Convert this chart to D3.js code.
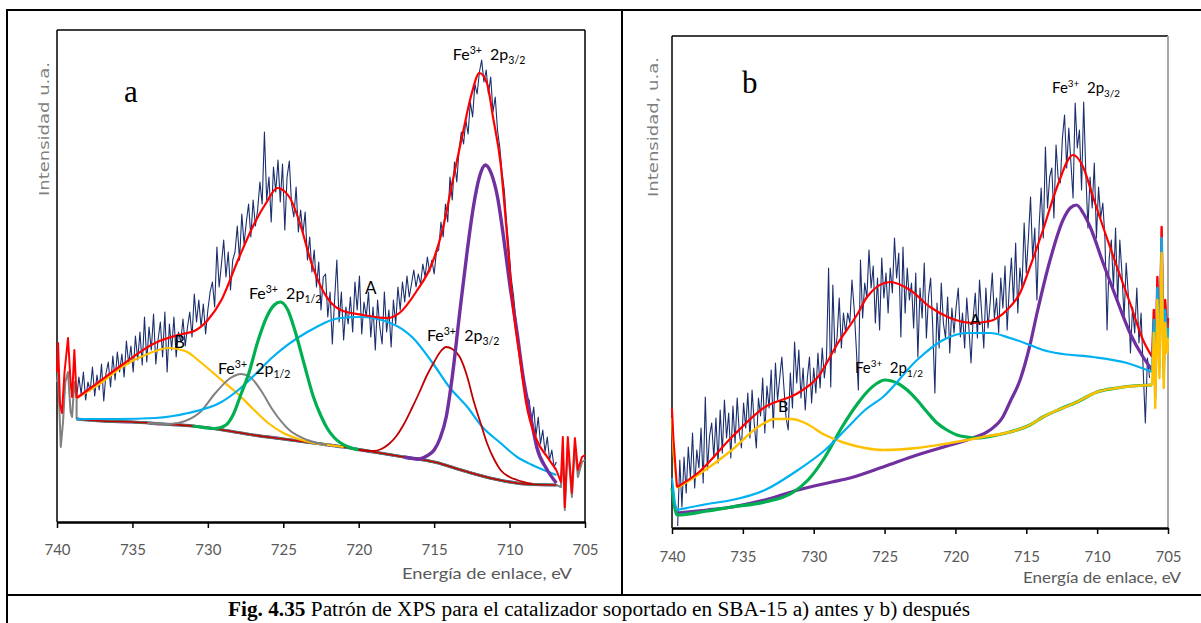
<!DOCTYPE html>
<html><head><meta charset="utf-8">
<script src="https://cdn.jsdelivr.net/npm/d3@7"></script>
<style>body{margin:0;background:#fff}svg{display:block}</style>
</head><body>
<svg id="c" width="1201" height="623"></svg>
<script>
// ---------------- DATA ----------------
const ticks = [740, 735, 730, 725, 720, 715, 710, 705];
const xTitle = "Energía de enlace, eV";
const yTitleA = "Intensidad u.a.";
const yTitleB = "Intensidad, u.a.";
const caption = ["Fig. 4.35", " Patrón de XPS para el catalizador soportado en SBA-15 a) antes y b) después"];

// Panel a : measured spectrum (start energy, step, values)
const rawA_start = 738.7, rawA_step = 0.15;
const rawA = [
124,145,128,150,122,140,131,155,126,147,
132,158,121,149,160,135,166,142,170,150,
168,145,181,158,176,150,186,162,190,157,
205,160,195,172,208,158,182,200,165,210,
150,198,172,205,165,190,180,203,176,195,
210,185,228,200,222,195,218,188,212,230,
240,215,275,235,258,282,245,270,232,262,
270,296,262,308,278,300,318,285,322,296,
312,340,318,390,322,345,300,355,330,362,
320,358,292,345,361,318,305,335,290,312,
288,310,262,285,250,272,235,260,212,245,
248,205,230,178,222,262,200,230,182,215,
198,225,190,240,212,246,188,220,205,230,
185,215,172,222,195,178,230,190,212,175,
222,198,235,212,240,220,246,225,238,252,
235,248,238,258,245,265,250,262,248,270,
272,300,285,318,300,345,322,360,340,372,
390,378,402,388,420,405,438,428,450,462,
440,452,428,445,410,425,392,375,350,332,
300,275,245,228,205,185,170,150,132,125,
122,98,115,86,105,78,92,70,85,62,
72,55,60];
// Panel a : fit curves [energy, intensity]
const baseA = [[738.7,103],[737,101],[735,100],[733,98],[731,96],[729,92],[727,87],[725,83],[723,79],[721,75],[719,70],[717,65],[715,60],[713,51],[711,43],[709,38],[707,37],[706.9,37]];
const bEdgeLA = [[740,140],[739.93,150],[739.75,75],[739.6,100],[739.45,140],[739.27,150],[739.1,110],[739.0,105],[738.85,140],[738.7,124],[738.7,103]];
const bEdgeRA = [[706.9,37],[706.6,35],[706.47,70],[706.34,12],[706.14,75],[705.87,25],[705.67,75],[705.47,45],[705.2,60],[705,62]];
const yellowA = [[738.7,124],[737,140],[735.7,155],[734,168],[732.6,174],[731.5,171],[730.5,160],[729.1,142],[728,128],[727,113],[726,99],[725,89],[724,83],[723,79],[722,77],[721,75]];
const grayA = [[734,99],[732.5,98],[731.5,101],[730.5,110],[729.5,129],[728.5,144],[727.8,148],[727.2,145],[726.5,132],[725.7,112],[724.6,92],[723.4,82],[722.1,77]];
const cyanA = [[738.7,103],[736,103],[733.5,104],[731.3,109],[729.1,120],[727.9,133],[726.9,147],[725.7,165],[723.4,190],[721.2,204],[719.9,205],[717.9,199],[716.4,184],[715.1,159],[714.0,135],[712.8,115],[711.8,95],[710.6,79],[709.5,65],[708.5,57],[706.9,47]];
const greenA = [[731,96],[729.5,93.5],[728.8,97],[728.3,108],[727.8,128],[727.3,148],[726.7,180],[726.1,205],[725.6,217],[725.2,220],[724.7,212],[724.2,190],[723.6,157],[723.0,125],[722.5,106],[722.1,94],[721.6,84],[721.2,79],[720.5,74],[720,72]];
const darkredA = [[720,72],[719,71],[718.5,73],[718,78],[717.5,86],[717,98],[716.5,113],[716,129],[715.5,146],[715,160],[714.6,170],[714.2,175],[713.8,173],[713.3,165],[712.8,145],[712.4,122],[711.9,98],[711.5,79],[711,62],[710.6,52],[710,45],[709.5,42],[708.5,38]];
const purpleA = [[717,65],[716,63],[715.5,66],[715,72],[714.6,84],[714.2,105],[713.8,145],[713.3,210],[712.8,272],[712.4,315],[712.0,345],[711.6,357],[711.2,348],[710.8,325],[710.4,285],[710.0,239],[709.5,189],[709.1,145],[708.6,105],[708.2,75],[707.5,52],[706.9,39]];
const fitA = [[738.7,124],[737.5,137],[735.7,157],[733.5,179],[731.7,188],[730.9,191],[730.0,202],[729.1,222],[728.0,262],[726.9,299],[726.1,320],[725.4,334],[724.6,325],[723.9,299],[723.2,262],[722.4,232],[721.2,212],[719.7,207],[718.1,204],[717.3,209],[716.2,230],[715.1,260],[714.4,295],[713.8,339],[713.1,389],[712.5,429],[712.0,449],[711.5,439],[711.1,405],[710.6,359],[710.2,292],[709.8,219],[709.3,162],[708.9,119],[708.2,82],[707.5,65],[706.9,52]];
const fEdgeLA = [[740,150],[739.93,179],[739.8,118],[739.67,109],[739.5,150],[739.27,184],[739.1,140],[739.0,125],[738.85,172],[738.7,124]];
const fEdgeRA = [[706.9,52],[706.6,40],[706.47,85],[706.34,15],[706.14,85],[705.87,29],[705.67,84],[705.47,52],[705.2,65],[705,67]];
// Panel a annotations [energy, intensity]
const annA = [
  {k:"fe", sub:"3/2", at:[713.76,462]},
  {k:"fe", sub:"1/2", at:[727.28,223]},
  {k:"txt", t:"A", at:[719.59,228]},
  {k:"fe", sub:"3/2", at:[715.48,181]},
  {k:"txt", t:"B", at:[732.25,174]},
  {k:"fe", sub:"1/2", at:[729.33,148]},
  {k:"panel", t:"a", at:[735.56,420]}
];

// Panel b : measured spectrum
const rawB_start = 739.6, rawB_step = 0.15;
const rawB = [
2,68,21,71,35,81,50,95,40,78,
60,100,45,131,58,92,105,70,110,65,
118,75,128,90,115,70,122,85,130,95,
80,125,100,135,90,138,105,80,130,112,
150,95,142,120,158,100,165,128,150,171,
140,110,98,155,120,186,145,178,130,160,
118,150,171,125,160,135,175,140,180,150,
170,260,141,243,175,191,230,180,215,195,
215,205,248,220,181,138,268,210,245,230,
278,240,262,205,250,198,270,230,255,215,
260,235,290,250,275,191,281,215,260,228,
245,200,255,171,240,210,265,190,231,250,
200,135,225,180,245,205,190,231,175,220,
195,221,240,191,215,180,230,200,165,210,
235,190,248,215,180,240,200,225,255,210,
230,195,250,220,262,198,240,270,225,285,
215,260,240,305,255,290,331,270,300,228,
300,340,290,381,320,351,360,310,383,350,
345,390,413,360,400,365,330,425,380,398,
338,426,355,300,351,320,365,290,341,310,
325,290,198,270,288,240,300,225,288,255,
210,265,233,175,221,195,240,185,215,158,
105,170,150];
const purpleB = [[739.65,15],[737.5,18],[735.77,21],[733.44,28],[731.11,38],[728.71,46],[727.44,50],[725.11,61],[722.71,73],[720.38,83],[718.76,90],[717.56,98],[716.7,110],[716.15,126],[715.44,148],[714.74,183],[714.24,215],[713.32,268],[712.41,308],[711.9,320],[711.45,323],[710.99,315],[710.49,301],[709.58,265],[708.60,228],[707.68,195],[706.76,171],[706.12,158]];
const greenB = [[740,40],[739.8,20],[739.65,13],[737.5,17],[735.77,21],[733.44,26],[731.53,35],[730.40,48],[729.20,71],[728.0,101],[726.87,125],[726.24,136],[725.5,145],[725.0,148],[724.5,147],[724.12,145],[723.4,138],[722.71,128],[722.0,116],[721.30,105],[720.6,98],[719.89,93],[719.2,91],[718.48,90],[717.06,93],[716.15,96],[714.74,103],[713.82,111],[712.6,119],[711.42,126],[710.01,136],[708.60,140],[707.5,142],[706.12,143]];
const yellowB = [[739.65,40],[738.17,53],[735.77,78],[733.93,101],[732.73,109],[731.53,109],[730.61,105],[729.20,93],[727.79,85],[726.38,80],[725.11,78],[722.71,80],[720.38,85],[718.05,91],[716.15,96],[714.74,103],[713.82,111],[711.42,126],[710.01,136],[708.60,140],[706.12,143]];
const cyanB = [[739.65,18],[737.5,24],[735.77,28],[733.44,38],[731.11,58],[729.20,78],[727.58,101],[726.38,118],[725.11,131],[722.71,168],[720.87,188],[719.18,195],[717.56,195],[716.15,190],[714.74,183],[713.82,178],[712.41,174],[710.29,171],[707.89,165],[706.12,156]];
const fitB = [[739.65,41],[738.17,55],[735.77,91],[733.44,121],[731.11,135],[729.70,151],[728.29,185],[726.87,215],[726.24,231],[724.62,246],[723.20,238],[721.79,221],[720.38,210],[718.76,205],[717.56,207],[716.36,218],[715.44,235],[714.74,261],[713.82,298],[712.83,341],[711.70,373],[710.99,361],[710.29,331],[709.58,301],[708.60,261],[707.68,225],[706.76,188],[706.12,171]];
const fEdgeLB = [[740,120],[739.9,90],[739.65,41]];
const yEdgeLB = [[740,110],[739.9,75],[739.65,40]];
const cEdgeLB = [[740,50],[739.8,25],[739.65,18]];
const fEdgeRB = [[706.12,171],[706.0,218],[705.9,140],[705.75,251],[705.6,171],[705.45,301],[705.3,160],[705.2,228],[705.05,195],[705,210]];
const cEdgeRB = [[706.12,156],[706.0,208],[705.9,130],[705.75,240],[705.6,162],[705.45,290],[705.3,150],[705.2,218],[705.05,185],[705,200]];
const yEdgeRB = [[706.12,143],[706.0,195],[705.9,120],[705.75,228],[705.6,150],[705.45,275],[705.3,140],[705.2,205],[705.05,175],[705,190]];
const annB = [
  {k:"panel", t:"b", at:[735.06,435]},
  {k:"fe", sub:"3/2", at:[713.18,435]},
  {k:"txt", t:"A", at:[718.97,203]},
  {k:"fe", sub:"1/2", at:[727.09,155]},
  {k:"txt", t:"B", at:[732.52,116]}
];

// ---------------- DRAW ----------------
const svg = d3.select("#c");
const SANS = "Lato, 'Open Sans', sans-serif";
const C = {navy:"#1b2f6e", red:"#ff0000", purple:"#7030a0", green:"#00b050", cyan:"#00b0f0", yellow:"#ffc000", dred:"#c00000", gray:"#808080"};

// frame
const fr = svg.append("g").attr("stroke","#000").attr("stroke-width",2);
fr.append("line").attr("x1",6).attr("x2",1201).attr("y1",10).attr("y2",10);
fr.append("line").attr("x1",7).attr("x2",7).attr("y1",9).attr("y2",623);
fr.append("line").attr("x1",622).attr("x2",622).attr("y1",10).attr("y2",595);
fr.append("line").attr("x1",7).attr("x2",1201).attr("y1",595).attr("y2",595);

function panel(o) {
  const g = svg.append("g");
  const x = d3.scaleLinear().domain([740,705]).range([o.x0,o.x1]);
  const y = d3.scaleLinear().domain([0,492]).range([o.y1,o.y0]);
  const smooth = d3.line().x(d=>x(d[0])).y(d=>y(d[1])).curve(d3.curveMonotoneX);
  const lin = d3.line().x(d=>x(d[0])).y(d=>y(d[1]));
  const draw = (data, col, w, gen) => g.append("path").attr("d",(gen||smooth)(data)).attr("fill","none")
      .attr("stroke",col).attr("stroke-width",w).attr("stroke-linejoin","round");
  // box
  g.append("line").attr("x1",o.x0).attr("x2",o.x1).attr("y1",o.y0).attr("y2",o.y0).attr("stroke","#000").attr("stroke-width",1.5);
  g.append("line").attr("x1",o.x0).attr("x2",o.x0).attr("y1",o.y0).attr("y2",o.y1).attr("stroke","#000").attr("stroke-width",1.5);
  g.append("line").attr("x1",o.x1).attr("x2",o.x1).attr("y1",o.y0).attr("y2",o.y1).attr("stroke",o.rightCol).attr("stroke-width",o.rightW);
  o.body(g, x, y, draw, smooth, lin);
  // axis
  const ax = g.append("g").attr("transform",`translate(0,${o.y1})`)
    .call(d3.axisBottom(x).tickValues(ticks).tickSize(6).tickSizeOuter(0).tickFormat(d3.format("d")));
  ax.select(".domain").attr("stroke","#000").attr("stroke-width",2.5);
  ax.selectAll(".tick line").attr("stroke","#000").attr("stroke-width",1.5);
  ax.selectAll(".tick text").attr("y",o.tickDy).attr("dy",0).attr("fill","#595959")
    .attr("font-family",SANS).attr("font-size",15);
  g.append("text").attr("x",o.xtX).attr("y",o.xtY).attr("text-anchor","end").attr("font-family",SANS)
    .attr("font-size",16).attr("fill","#595959").attr("textLength",o.xtLen).attr("lengthAdjust","spacingAndGlyphs").text(xTitle);
  g.append("text").attr("transform",`translate(${o.ytX},${o.ytY}) rotate(-90)`).attr("text-anchor","middle")
    .attr("font-family","'DejaVu Sans', Verdana, sans-serif").attr("font-size",14).attr("fill","#7f7f7f")
    .attr("textLength",o.ytLen).attr("lengthAdjust","spacingAndGlyphs").text(o.ytText);
  // annotations
  o.ann.forEach(a => {
    const px = x(a.at[0]), py = y(a.at[1]);
    if (a.k === "panel") {
      g.append("text").attr("x",px).attr("y",py).attr("font-family","'Liberation Serif','Times New Roman',serif")
        .attr("font-size",31).text(a.t);
    } else if (a.k === "txt") {
      g.append("text").attr("x",px).attr("y",py).attr("font-family",SANS).attr("font-size",o.fs+1).text(a.t);
    } else {
      const s = o.fs;
      const t = g.append("text").attr("x",px).attr("y",py).attr("font-family",SANS).attr("font-size",s);
      t.append("tspan").text("Fe");
      t.append("tspan").attr("font-size",s*0.66).attr("dy",-s*0.4).text("3+");
      t.append("tspan").attr("dy",s*0.4).text("\u00a0\u00a02p");
      t.append("tspan").attr("font-size",s*0.66).attr("dy",s*0.28).text(a.sub);
    }
  });
}

panel({x0:57, x1:585, y0:30, y1:522, rightCol:"#000", rightW:1.5, tickDy:33, xtX:572, xtY:579, xtLen:170,
  ytX:49, ytY:129, ytLen:134, ytText:yTitleA, ann:annA, fs:16,
  body:(g,x,y,draw,smooth,lin)=>{
    const raw = rawA.map((v,i)=>[rawA_start - i*rawA_step, v]);
    draw(raw, C.navy, 1.1, lin);
    draw(bEdgeLA, C.gray, 2, lin); draw(bEdgeRA, C.gray, 2, lin);
    draw(baseA, C.purple, 3.2); draw(baseA, C.green, 2.6); draw(baseA, C.gray, 2.2); draw(baseA, C.dred, 1.6);
    draw(yellowA, C.yellow, 2.2);
    draw(grayA, C.gray, 2);
    draw(cyanA, C.cyan, 2.2);
    draw(greenA, C.green, 3.2);
    draw(darkredA, C.dred, 1.8);
    draw(purpleA, C.purple, 3.4);
    draw(fitA, C.red, 2.2);
    draw(fEdgeLA, C.red, 2, lin); draw(fEdgeRA, C.red, 2, lin);
  }});

panel({x0:672, x1:1168, y0:36, y1:528, rightCol:"#a6a6a6", rightW:2, tickDy:34, xtX:1181, xtY:583, xtLen:158,
  ytX:658, ytY:127, ytLen:140, ytText:yTitleB, ann:annB, fs:15,
  body:(g,x,y,draw,smooth,lin)=>{
    const raw = rawB.map((v,i)=>[rawB_start - i*rawB_step, v]);
    draw(raw, C.navy, 1.1, lin);
    draw(purpleB, C.purple, 3.2);
    draw(greenB, C.green, 3.2);
    draw(yellowB, C.yellow, 2.4);
    draw(cEdgeLB, C.cyan, 2, lin); draw(yEdgeLB, C.yellow, 2, lin); draw(fEdgeLB, C.red, 2, lin);
    draw(cyanB, C.cyan, 2.2);
    draw(fitB, C.red, 2.2);
    draw(fEdgeRB, C.red, 2.4, lin); draw(cEdgeRB, C.cyan, 2.4, lin); draw(yEdgeRB, C.yellow, 2.4, lin);
  }});

// caption
const cap = svg.append("text").attr("x",228).attr("y",616).attr("font-family","'Liberation Serif','Times New Roman',serif")
  .attr("font-size",20).attr("textLength",742).attr("lengthAdjust","spacingAndGlyphs");
cap.append("tspan").attr("font-weight","bold").text(caption[0]);
cap.append("tspan").text(caption[1]);
</script>
</body></html>
